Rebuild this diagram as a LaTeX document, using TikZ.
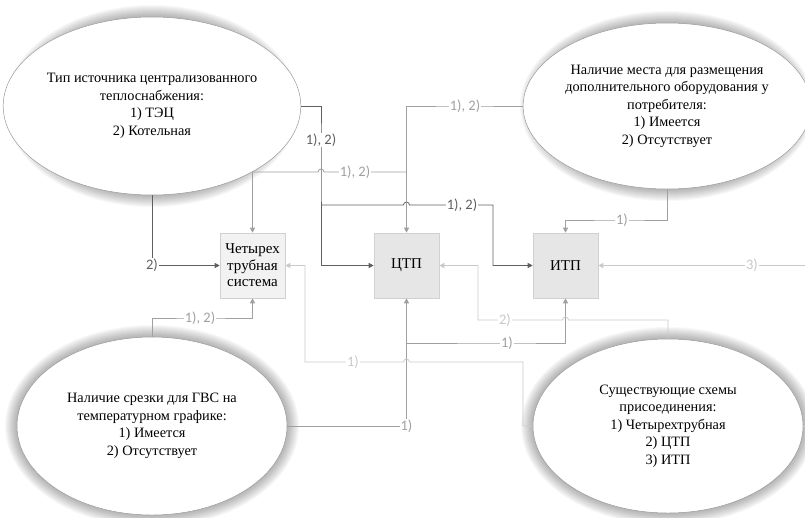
\documentclass[tikz,border=0pt]{standalone}
\usepackage{fontspec}
\setmainfont{Liberation Serif}
\newfontfamily\serifru{Liberation Serif}
\newfontfamily\lblfont{Carlito}
\usetikzlibrary{shapes.geometric,arrows.meta}
\definecolor{dk}{HTML}{5F5F5F}
\definecolor{md}{HTML}{A0A0A0}
\definecolor{lt}{HTML}{C9C9C9}
\definecolor{boxa}{HTML}{F2F2F2}
\definecolor{boxb}{HTML}{E6E6E6}
\newcommand\glowell[4]{%
  \foreach \k in {1,...,12}{%
    \fill[black,opacity=0.027] (#1,#2) ellipse [x radius=#3pt+\k pt, y radius=#4pt+\k pt];}}
\begin{document}
\begin{tikzpicture}[x=1pt,y=-1pt,
  ell/.style={ellipse, draw=black!40, line width=0.5pt, fill=white, align=center, inner sep=0pt,
    font=\serifru\fontsize{14.3}{17.5}\selectfont},
  boxnode/.style={draw=black!18, line width=0.6pt, minimum width=65pt, minimum height=65pt,
    inner sep=0pt, align=center, font=\serifru\fontsize{15}{16.5}\selectfont},
  con/.style={line width=0.8pt},
  arr/.style={-{Triangle[length=5pt,width=5pt]}},
  lbl/.style={fill=white, inner sep=0.8pt, font=\lblfont\fontsize{14.5}{15}\selectfont},
]
\useasboundingbox (0,0) rectangle (805,517);
\clip (0,0) rectangle (805,517);
% glows
\glowell{152}{106}{135}{89}
\glowell{667}{106}{135}{83}
\glowell{152}{426}{135}{89}
\glowell{668}{426}{135}{87}
% ellipses
\node[ell, minimum width=270pt, minimum height=178pt] (e1) at (152,106)
  {Тип источника централизованного\\теплоснабжения:\\1) ТЭЦ\\2) Котельная};
\node[ell, minimum width=270pt, minimum height=166pt] (e2) at (667,106)
  {Наличие места для размещения\\дополнительного оборудования у\\потребителя:\\1) Имеется\\2) Отсутствует};
\node[ell, minimum width=270pt, minimum height=178pt] (e3) at (152,426)
  {Наличие срезки для ГВС на\\температурном графике:\\1) Имеется\\2) Отсутствует};
\node[ell, minimum width=270pt, minimum height=174pt] (e4) at (668,426)
  {Существующие схемы\\присоединения:\\1) Четырехтрубная\\2) ЦТП\\3) ИТП};
% boxes
\node[boxnode, fill=boxa] (b1) at (252.5,265.5) {Четырех\\трубная\\система};
\node[boxnode, fill=boxb] (b2) at (406.5,265.5) {ЦТП};
\node[boxnode, fill=boxb] (b3) at (565.5,265.5) {ИТП};
% dark connectors (from e1)
\draw[con,dk,arr] (e1.east) -- (321,106) -- (321,140) node[lbl,text=dk]{1), 2)} -- (321,265.5) -- (b2.west);
\draw[con,dk,arr] (321,205) -- (403.5,205) arc[start angle=180,end angle=0,radius=3pt]
  -- (462,205) node[lbl,text=dk]{1), 2)} -- (493,205) -- (493,265.5) -- (b3.west);
\draw[con,dk,arr] (e1.south) -- (152,265.5) node[lbl,text=dk]{2)} -- (b1.west);
% medium connectors (from e2, e3)
\draw[con,md,arr] (e2.west) -- (465,106) node[lbl,text=md]{1), 2)} -- (406.5,106) -- (b2.north);
\draw[con,md,arr] (406.5,172) -- (355,172) node[lbl,text=md]{1), 2)} -- (324,172)
  arc[start angle=0,end angle=180,radius=3pt] -- (252.5,172) -- (b1.north);
\draw[con,md,arr] (e2.south) -- (667,220) -- (622,220) node[lbl,text=md]{1)} -- (565.5,220) -- (b3.north);
\draw[con,md,arr] (e3.north) -- (152,318) -- (200,318) node[lbl,text=md]{1), 2)} -- (252.5,318) -- (b1.south);
\draw[con,md,arr] (e3.east) -- (406.5,426) node[lbl,text=md]{1)} -- (b2.south);
\draw[con,md,arr] (406.5,343) -- (507,343) node[lbl,text=md]{1)} -- (565.5,343) -- (b3.south);
% light connectors (from e4)
\draw[con,lt,arr] (e4.north) -- (668,320) -- (568.5,320) arc[start angle=0,end angle=180,radius=3pt]
  -- (505,320) node[lbl,text=lt]{2)} -- (478,320) -- (478,265.5) -- (b2.east);
\draw[con,lt,arr] (e4.west) -- (523,426) -- (523,362) -- (409.5,362) arc[start angle=0,end angle=180,radius=3pt]
  -- (353,362) node[lbl,text=lt]{1)} -- (305,362) -- (305,265.5) -- (b1.east);
\draw[con,lt,arr] (e4.east) -- (830,426) -- (830,265.5) -- (752,265.5) node[lbl,text=lt]{3)} -- (b3.east);
\end{tikzpicture}
\end{document}
